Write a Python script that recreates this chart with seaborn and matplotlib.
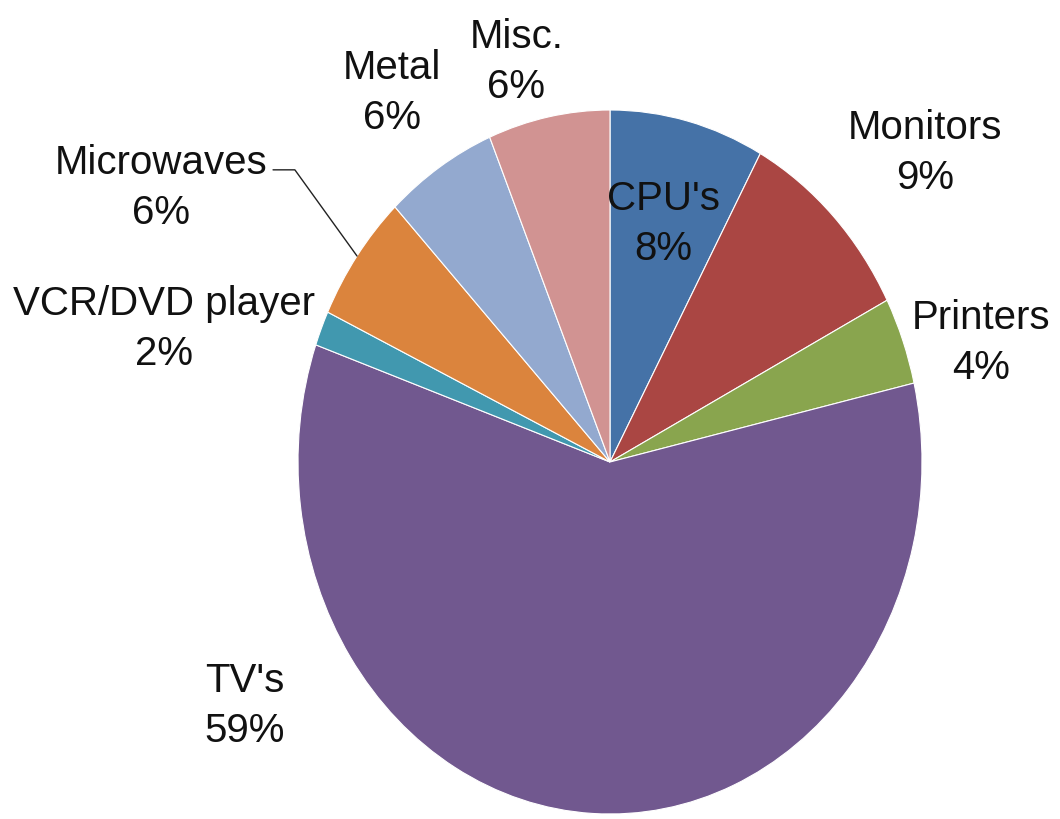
import numpy as np
import matplotlib
matplotlib.use("Agg")
import matplotlib.pyplot as plt
import seaborn as sns

# shares (percent)
categories = ["CPU's", "Monitors", "Printers", "TV's", "VCR/DVD player",
              "Microwaves", "Metal", "Misc."]
shares = [8.0, 9.4, 4.0, 59.0, 1.6, 5.9, 5.8, 6.3]
colors = ["#4572A7", "#AA4643", "#89A54E", "#71588F", "#4198AF",
          "#DB843D", "#93A9CF", "#D19392"]

# label centres in pie-radius units
label_pos = [(0.17, 0.68), (1.01, 0.88), (1.19, 0.34), (-1.17, -0.69),
             (-1.43, 0.38), (-1.44, 0.78), (-0.70, 1.05), (-0.30, 1.14)]

sns.set_theme(style="white")
plt.rcParams["font.family"] = ["Liberation Sans Narrow", "DejaVu Sans Condensed",
                               "Liberation Sans", "DejaVu Sans"]

fig = plt.figure(figsize=(10.6, 8.2), dpi=100)
ax = fig.add_axes([0, 0, 1, 1])
wedges, _ = ax.pie(shares, colors=colors, startangle=90, counterclock=False,
                   radius=1, wedgeprops=dict(edgecolor="white", linewidth=0.8))
ax.set_aspect("auto")

# pie centre at (610, 463) px, radii 312 px across and 352 px down
ax.set_xlim(-610 / 312, 450 / 312)
ax.set_ylim(-(820 - 463) / 352, 463 / 352)
ax.axis("off")

for name, val, (x, y) in zip(categories, shares, label_pos):
    ax.text(x, y, f"{name}\n{round(val):.0f}%", ha="center", va="center",
            fontsize=29, linespacing=1.4, color="#111111")

# leader line for Microwaves
w = wedges[categories.index("Microwaves")]
mid = np.deg2rad((w.theta1 + w.theta2) / 2)
ex, ey = np.cos(mid), np.sin(mid)
ax.plot([-1.08, -1.01, ex], [0.83, 0.83, ey], color="#222222", lw=1)

fig.savefig("out.png", dpi=100)
